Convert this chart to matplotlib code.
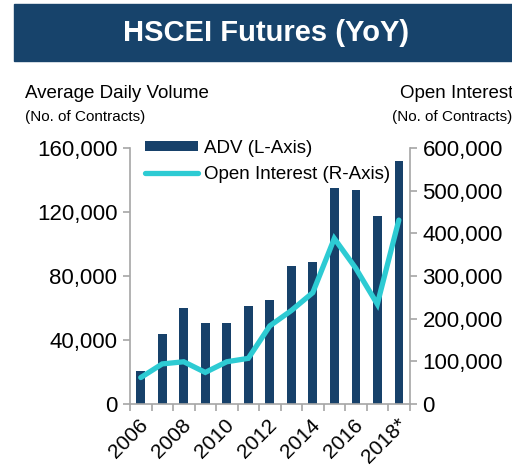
import numpy as np
import matplotlib.pyplot as plt
from matplotlib.patches import Rectangle

plt.rcParams['font.family'] = ['Liberation Sans', 'DejaVu Sans']

# data
years = ["2006", "2007", "2008", "2009", "2010", "2011", "2012",
         "2013", "2014", "2015", "2016", "2017", "2018*"]
adv = [20500, 44000, 60000, 50500, 50500, 61500, 65000,
       86000, 88500, 135000, 133500, 117500, 152000]
open_interest = [62000, 94000, 99000, 74000, 99000, 107000, 183000,
                 219000, 261000, 388000, 318000, 234000, 431000]

bar_col = "#17416A"
line_col = "#2DCBD3"
grey = "#A6A6A6"

fig = plt.figure(figsize=(5.12, 4.67), dpi=100)

# title banner
fig.patches.append(Rectangle((14 / 512, 1 - 61 / 467), 1 - 14 / 512, 57 / 467,
                             transform=fig.transFigure, color="#17436B", zorder=0))
fig.text(0.52, 1 - 33 / 467, "HSCEI Futures (YoY)", color="white",
         fontsize=21, fontweight="bold", ha="center", va="center")

ax = fig.add_axes([130 / 512, 1 - 404 / 467, 280 / 512, 256 / 467])
x = np.arange(len(years))
ax.bar(x, adv, width=0.4, color=bar_col, label="ADV (L-Axis)", zorder=2)
ax.set_xlim(-0.48, 12.52)
ax.set_ylim(0, 160000)
ax.set_yticks(np.arange(0, 160001, 40000))
ax.set_yticklabels([f"{v:,}" for v in range(0, 160001, 40000)])

ax2 = ax.twinx()
ln, = ax2.plot(x, open_interest, color=line_col, lw=3.8,
               solid_capstyle="round", solid_joinstyle="miter",
               label="Open Interest (R-Axis)", zorder=3)
ax2.set_ylim(0, 600000)
ax2.set_yticks(np.arange(0, 600001, 100000))
ax2.set_yticklabels([f"{v:,}" for v in range(0, 600001, 100000)])

# x ticks: marks between categories, labels every other year
ax.set_xticks(np.arange(-0.5, 13, 1), minor=True)
ax.set_xticks(x[::2] - 0.1)
ax.set_xticklabels(years[::2], rotation=45, ha="right", rotation_mode="anchor")
ax.tick_params(axis="x", which="major", length=0, pad=8, labelsize=15)
ax.tick_params(axis="x", which="minor", length=5, color=grey, width=1.2)

for a in (ax, ax2):
    for s in a.spines.values():
        s.set_visible(False)
ax.spines["left"].set_visible(True)
ax.spines["bottom"].set_visible(True)
ax2.spines["right"].set_visible(True)
for s in (ax.spines["left"], ax.spines["bottom"], ax2.spines["right"]):
    s.set_color(grey)
    s.set_linewidth(1.2)

ax.tick_params(axis="y", length=5, color=grey, width=1.2, labelsize=16, pad=4)
ax2.tick_params(axis="y", length=5, color=grey, width=1.2, labelsize=16, pad=4)

h1, l1 = ax.get_legend_handles_labels()
leg = ax2.legend(h1 + [ln], l1 + [ln.get_label()], loc="upper left",
                 bbox_to_anchor=(0.027, 1.06), frameon=False, fontsize=13.5,
                 handlelength=2.8, handleheight=0.45, labelspacing=0.45,
                 handletextpad=0.32, borderaxespad=0)

fig.text(25 / 512, 1 - 93 / 467, "Average Daily Volume", fontsize=13.5,
         ha="left", va="center")
fig.text(25 / 512, 1 - 117 / 467, "(No. of Contracts)", fontsize=11,
         ha="left", va="center")
fig.text(400 / 512, 1 - 93 / 467, "Open Interest", fontsize=13.5,
         ha="left", va="center")
fig.text(512 / 512, 1 - 117 / 467, "(No. of Contracts)", fontsize=11,
         ha="right", va="center")

fig.savefig("out.png", dpi=100)
